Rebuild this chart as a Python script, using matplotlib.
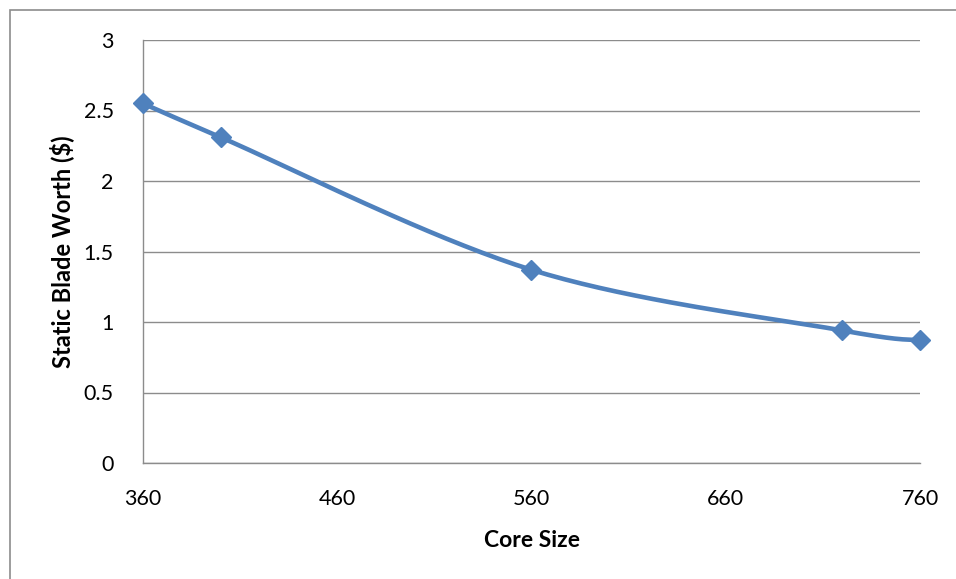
import matplotlib
matplotlib.use("Agg")
import matplotlib.pyplot as plt
from matplotlib.patches import Rectangle
import numpy as np

plt.rcParams['font.family'] = ['Lato', 'DejaVu Sans']

core_size = [360, 400, 560, 720, 760]
blade_worth = [2.55, 2.31, 1.37, 0.94, 0.87]
x_ticks = [360, 460, 560, 660, 760]
y_ticks = [0, 0.5, 1, 1.5, 2, 2.5, 3]


def smooth_curve(x, y, n=40):
    """Bezier smoothing through every point (Catmull-Rom style tangents)."""
    x = np.asarray(x, float)
    y = np.asarray(y, float)
    px = np.concatenate([[x[0]], x, [x[-1]]])
    py = np.concatenate([[y[0]], y, [y[-1]]])
    xs, ys = [], []
    t = np.linspace(0, 1, n)
    for i in range(1, len(px) - 2):
        p0 = np.array([px[i], py[i]])
        p3 = np.array([px[i + 1], py[i + 1]])
        p1 = p0 + (np.array([px[i + 1], py[i + 1]]) - np.array([px[i - 1], py[i - 1]])) / 6
        p2 = p3 - (np.array([px[i + 2], py[i + 2]]) - np.array([px[i], py[i]])) / 6
        b = ((1 - t) ** 3)[:, None] * p0 + (3 * (1 - t) ** 2 * t)[:, None] * p1 \
            + (3 * (1 - t) * t ** 2)[:, None] * p2 + (t ** 3)[:, None] * p3
        xs.extend(b[:, 0])
        ys.extend(b[:, 1])
    return np.array(xs), np.array(ys)


fig = plt.figure(figsize=(9.56, 5.79), dpi=100)
ax = fig.add_axes([143 / 956, 1 - 463 / 579, (920 - 143) / 956, (463 - 40) / 579])

fig.patches.append(Rectangle((10 / 956, -0.1), 1.2, 1 - 10 / 579 + 0.1,
                             transform=fig.transFigure, fill=False,
                             edgecolor='#8c8c8c', linewidth=1.2))

sx, sy = smooth_curve(core_size, blade_worth)
ax.plot(sx, sy, color='#4f81bd', linewidth=3.3, solid_capstyle='round', zorder=3)
ax.plot(core_size, blade_worth, linestyle='none', marker='D', markersize=10,
        color='#4f81bd', zorder=4, clip_on=False)

ax.set_xlim(360, 760)
ax.set_ylim(0, 3)
ax.set_xticks(x_ticks)
ax.set_yticks(y_ticks)
ax.set_yticklabels(['0', '0.5', '1', '1.5', '2', '2.5', '3'])
ax.yaxis.grid(True, color='#8c8c8c', linewidth=1)
ax.set_axisbelow(True)
for side in ['top', 'right']:
    ax.spines[side].set_visible(False)
for side in ['left', 'bottom']:
    ax.spines[side].set_color('#8c8c8c')
    ax.spines[side].set_linewidth(1)
ax.tick_params(length=0, labelsize=15.5, colors='black')
ax.tick_params(axis='x', pad=19)
ax.tick_params(axis='y', pad=21)

ax.set_xlabel('Core Size', fontsize=16.5, fontweight='bold', labelpad=15)
ax.set_ylabel('Static Blade Worth ($)', fontsize=17, fontweight='bold', labelpad=7)

fig.savefig('out.png', dpi=100)
